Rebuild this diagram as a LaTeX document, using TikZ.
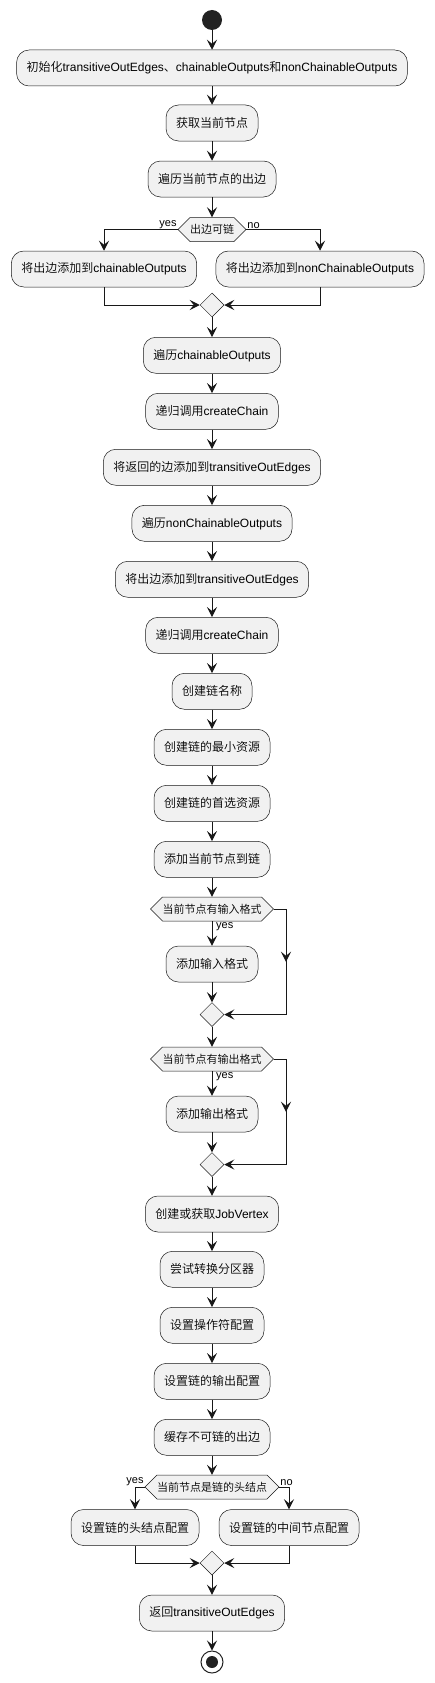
\documentclass[tikz,border=0pt]{standalone}
\usepackage{fontspec}
\setmainfont{Liberation Sans}
\newfontfamily\cjk{Noto Sans CJK SC}[UprightFont=* DemiLight]
\usetikzlibrary{arrows.meta,shapes.geometric,decorations.markings}
\definecolor{boxfill}{HTML}{F1F1F1}
\definecolor{edge}{HTML}{181818}
\definecolor{dot}{HTML}{222222}
\tikzset{
  act/.style={rectangle, rounded corners=12.5pt, draw=edge, line width=0.5pt, fill=boxfill,
    minimum height=36pt, inner xsep=10pt, inner ysep=0pt, font=\fontsize{12}{14}\selectfont, text=black},
  flow/.style={draw=edge, line width=1pt, -{Stealth[length=10pt,width=10pt,inset=4pt]}},
  wire/.style={draw=edge, line width=1pt},
  merge/.style={diamond, draw=edge, line width=0.5pt, fill=boxfill, minimum width=24pt,
    minimum height=24pt, inner sep=0pt},
  hexsty/.style={draw=edge, line width=0.5pt, fill=boxfill},
  qtext/.style={inner sep=0pt, minimum height=24pt, font=\fontsize{11}{13}\selectfont, text=black},
  lbl/.style={font=\fontsize{11}{13}\selectfont, inner sep=1pt, text=black},
  midarrow/.style={decoration={markings, mark=at position 0.5 with {\arrow{Stealth[length=10pt,width=10pt,inset=4pt]}}}, postaction={decorate}}
}
\newcommand\hexq[5]{%
  \path[hexsty] ({#2-#4},#3) -- ({#2-#4+12},{#3-12}) -- ({#2+#4-12},{#3-12}) -- ({#2+#4},#3)
    -- ({#2+#4-12},{#3+12}) -- ({#2-#4+12},{#3+12}) -- cycle;
  \node[qtext, minimum width={2*#4pt}] (#1) at (#2,#3) {#5};}
\begin{document}
\begin{tikzpicture}[x=1pt,y=-1pt]
\useasboundingbox (0,0) rectangle (434,1683);
\node[circle, fill=dot, minimum size=20pt, inner sep=0pt] (start) at (212,20) {};
\node[act] (b1) at (212,68) {{\cjk 初始化}transitiveOutEdges{\cjk 、}chainableOutputs{\cjk 和}nonChainableOutputs};
\node[act] (b2) at (212,123) {\cjk 获取当前节点};
\node[act] (b3) at (212,179) {\cjk 遍历当前节点的出边};
\hexq{q1}{212}{229.5}{34}{\cjk 出边可链}
\node[act] (bl) at (104,269) {{\cjk 将出边添加到}chainableOutputs};
\node[act] (br) at (320,269) {{\cjk 将出边添加到}nonChainableOutputs};
\node[merge] (m1) at (212,305) {};
\node[act] (b4) at (212,355.3) {{\cjk 遍历}chainableOutputs};
\node[act] (b5) at (212,411.3) {{\cjk 递归调用}createChain};
\node[act] (b6) at (212,467.3) {{\cjk 将返回的边添加到}transitiveOutEdges};
\node[act] (b7) at (212,523.3) {{\cjk 遍历}nonChainableOutputs};
\node[act] (b8) at (212,579.3) {{\cjk 将出边添加到}transitiveOutEdges};
\node[act] (b9) at (212,635.3) {{\cjk 递归调用}createChain};
\node[act] (b10) at (212,691.3) {\cjk 创建链名称};
\node[act] (b11) at (212,747.3) {\cjk 创建链的最小资源};
\node[act] (b12) at (212,803.3) {\cjk 创建链的首选资源};
\node[act] (b13) at (212,859.3) {\cjk 添加当前节点到链};
\hexq{q3}{212}{909}{61.5}{\cjk 当前节点有输入格式}
\node[act] (b14) at (212,964) {\cjk 添加输入格式};
\node[merge] (m3) at (212,1014.5) {};
\hexq{q4}{212}{1059}{61.5}{\cjk 当前节点有输出格式}
\node[act] (b15) at (212,1114) {\cjk 添加输出格式};
\node[merge] (m4) at (212,1164.5) {};
\node[act] (b16) at (212,1214) {{\cjk 创建或获取}JobVertex};
\node[act] (b17) at (212,1269.3) {\cjk 尝试转换分区器};
\node[act] (b18) at (212,1325.3) {\cjk 设置操作符配置};
\node[act] (b19) at (212,1381.3) {\cjk 设置链的输出配置};
\node[act] (b20) at (212,1437.3) {\cjk 缓存不可链的出边};
\hexq{q5}{212}{1487}{67}{\cjk 当前节点是链的头结点}
\node[act] (bl5) at (135,1527.5) {\cjk 设置链的头结点配置};
\node[act] (br5) at (289,1527.5) {\cjk 设置链的中间节点配置};
\node[merge] (m5) at (212,1563) {};
\node[act] (b21) at (212,1613) {{\cjk 返回}transitiveOutEdges};
\node[circle, draw=dot, line width=1pt, fill=white, minimum size=22pt, inner sep=0pt] (end) at (212,1662) {};
\node[circle, fill=dot, minimum size=12pt, inner sep=0pt] (endin) at (end.center) {};
\coordinate (skip) at (286,0);
% straight flow
\foreach \a/\b in {start/b1,b1/b2,b2/b3,b3/q1,m1/b4,b4/b5,b5/b6,b6/b7,b7/b8,b8/b9,b9/b10,b10/b11,
  b11/b12,b12/b13,b13/q3,q3/b14,b14/m3,m3/q4,q4/b15,b15/m4,m4/b16,b16/b17,b17/b18,b18/b19,
  b19/b20,b20/q5,m5/b21,b21/end}
  \draw[flow] (\a.south) -- (\b.north);
% decision 1
\draw[flow] (q1.west) -| (bl.north);
\draw[flow] (q1.east) -| (br.north);
\draw[flow] (bl.south) |- (m1.west);
\draw[flow] (br.south) |- (m1.east);
\node[lbl, anchor=south east] (y1) at (q1.west) {yes};
\node[lbl, anchor=south west] (n1) at (q1.east) {no};
% decision 3 skip
\draw[wire] (q3.east) -- (q3.east -| skip);
\draw[wire, midarrow] (q3.east -| skip) -- (m3.east -| skip);
\draw[flow] (m3.east -| skip) -- (m3.east);
\node[lbl, anchor=north west, xshift=3pt] (y3) at (q3.south) {yes};
% decision 4 skip
\draw[wire] (q4.east) -- (q4.east -| skip);
\draw[wire, midarrow] (q4.east -| skip) -- (m4.east -| skip);
\draw[flow] (m4.east -| skip) -- (m4.east);
\node[lbl, anchor=north west, xshift=3pt] (y4) at (q4.south) {yes};
% decision 5
\draw[flow] (q5.west) -| (bl5.north);
\draw[flow] (q5.east) -| (br5.north);
\draw[flow] (bl5.south) |- (m5.west);
\draw[flow] (br5.south) |- (m5.east);
\node[lbl, anchor=south east] (y5) at (q5.west) {yes};
\node[lbl, anchor=south west] (n5) at (q5.east) {no};
\end{tikzpicture}
\end{document}
